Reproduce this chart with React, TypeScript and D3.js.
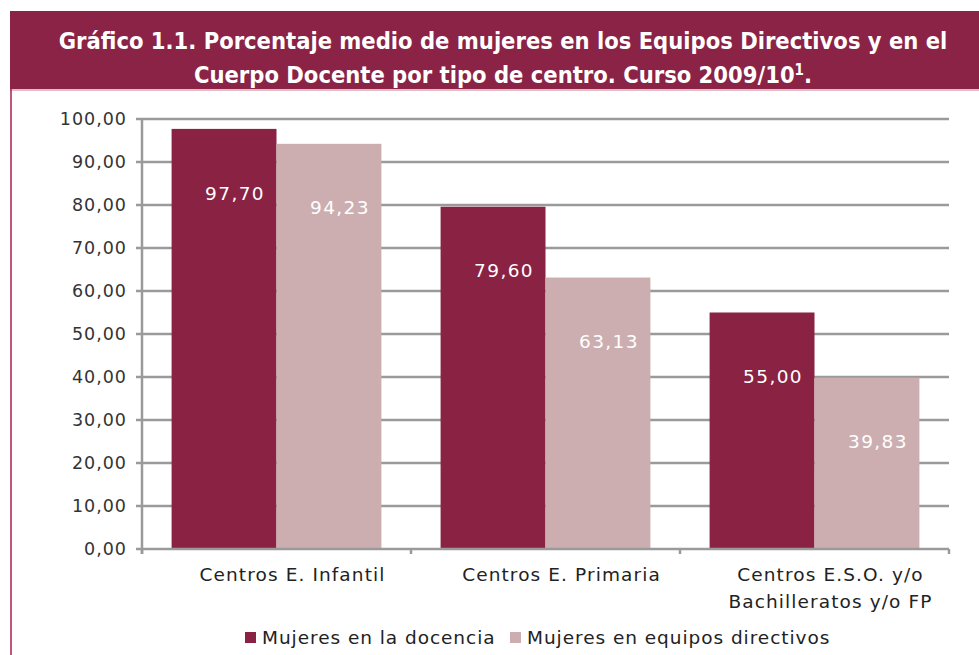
import React from "react";
import * as d3 from "d3";

// data
const categories = ["Centros E. Infantil", "Centros E. Primaria", "Centros E.S.O. y/o\nBachilleratos y/o FP"];
const docencia = [97.7, 79.6, 55.0];
const directivos = [94.23, 63.13, 39.83];
const seriesNames = ["Mujeres en la docencia", "Mujeres en equipos directivos"];
const yTicks = [0, 10, 20, 30, 40, 50, 60, 70, 80, 90, 100];
const titleLines = ["Gráfico 1.1. Porcentaje medio de mujeres en los Equipos Directivos y en el", "Cuerpo Docente por tipo de centro. Curso 2009/10"];

const colors = ["#8a2244", "#cdaeb0"];
const fmt = (v: number) => d3.format(".2f")(v).replace(".", ",");

export default function App() {
  const W = 979, H = 655;
  const left = 142, right = 949, top = 119, bottom = 549;

  const x = d3.scaleBand().domain(categories).range([left, right]).paddingInner(0.22).paddingOuter(0.11);
  const sub = d3.scaleBand().domain(["0", "1"]).range([0, x.bandwidth()]);
  const y = d3.scaleLinear().domain([0, 100]).range([bottom, top]);

  const series = [docencia, directivos];
  const font = "'DejaVu Sans', Verdana, sans-serif";
  const titleFont = "'DejaVu Sans Condensed', 'Liberation Sans Narrow', 'DejaVu Sans', sans-serif";

  return (
    <svg width={W} height={H} style={{ position: "absolute", left: 0, top: 0, background: "#fff" }}>
      {/* title band */}
      <rect x={10} y={11} width={W - 10} height={78} fill="#8a2346" />
      <line x1={10} x2={W} y1={90} y2={90} stroke="#d9a9b7" strokeWidth={1.5} />
      <line x1={11} x2={11} y1={89} y2={H} stroke="#a8204a" strokeWidth={1.5} />
      <text x={503} y={49} textAnchor="middle" fill="#fff" fontFamily={titleFont} fontWeight="bold" fontSize={23.5}>
        {titleLines[0]}
      </text>
      <text x={503} y={83} textAnchor="middle" fill="#fff" fontFamily={titleFont} fontWeight="bold" fontSize={23.5}>
        {titleLines[1]}
        <tspan dy={-8} fontSize={15}>1</tspan>
        <tspan dy={8}>.</tspan>
      </text>

      {/* gridlines and y axis */}
      {yTicks.map((t) => (
        <g key={t}>
          {t > 0 && <line x1={left} x2={right} y1={y(t)} y2={y(t)} stroke="#9a9a9a" strokeWidth={2.5} />}
          <line x1={136} x2={left} y1={y(t)} y2={y(t)} stroke="#9a9a9a" strokeWidth={2.5} />
          <text x={127} y={y(t)} dy="0.36em" textAnchor="end" fontFamily={font} fontSize={17.5} letterSpacing={1} fill="#333">
            {fmt(t)}
          </text>
        </g>
      ))}
      <line x1={left} x2={left} y1={top} y2={bottom + 5} stroke="#9a9a9a" strokeWidth={2.5} />

      {/* bars */}
      {categories.map((c, ci) => (
        <g key={c}>
          {series.map((s, si) => {
            const bx = (x(c) as number) + (sub(String(si)) as number);
            return (
              <g key={si}>
                <rect x={bx} y={y(s[ci])} width={sub.bandwidth()} height={bottom - y(s[ci])} fill={colors[si]} />
                <text x={bx + sub.bandwidth() / 2 + 11} y={y(s[ci]) + 64} dy="0.36em" textAnchor="middle" fill="#fff" fontFamily={font} fontSize={18.5} letterSpacing={1.4}>
                  {fmt(s[ci])}
                </text>
              </g>
            );
          })}
        </g>
      ))}

      {/* x axis */}
      <line x1={left} x2={right} y1={bottom} y2={bottom} stroke="#9a9a9a" strokeWidth={2.5} />
      {[left, ...categories.map((c) => (x(c) as number) + x.bandwidth() + (x.step() - x.bandwidth()) / 2)].map((tx, i) => (
        <line key={i} x1={Math.min(tx, right)} x2={Math.min(tx, right)} y1={bottom} y2={bottom + 5} stroke="#9a9a9a" strokeWidth={2.5} />
      ))}
      {categories.map((c) => {
        const cx = (x(c) as number) + x.bandwidth() / 2 + 16;
        return (
          <text key={c} x={cx} y={574} textAnchor="middle" fontFamily={font} fontSize={18.5} letterSpacing={1.1} fill="#222">
            {c.split("\n").map((line, li) => (
              <tspan key={li} x={cx} dy={li === 0 ? "0.36em" : 27}>{line}</tspan>
            ))}
          </text>
        );
      })}

      {/* legend */}
      {[
        { x: 245, tx: 262 },
        { x: 510, tx: 527 },
      ].map((l, i) => (
        <g key={i}>
          <rect x={l.x} y={632} width={11} height={11} fill={colors[i]} />
          <text x={l.tx} y={637} dy="0.36em" fontFamily={font} fontSize={18.5} letterSpacing={0.95} fill="#222">
            {seriesNames[i]}
          </text>
        </g>
      ))}
    </svg>
  );
}
